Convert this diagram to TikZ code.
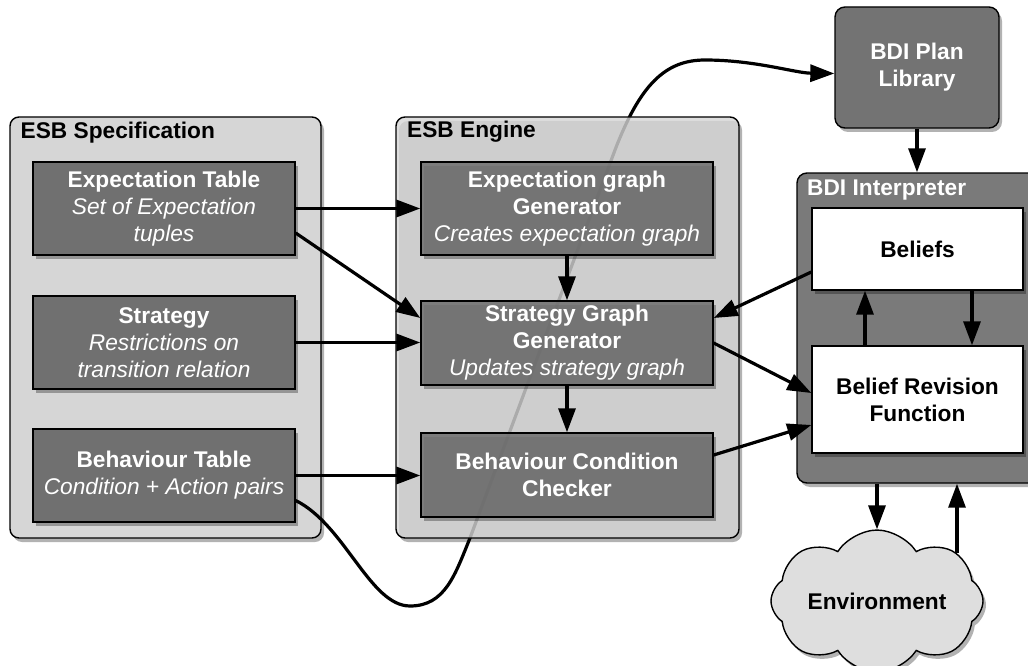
\documentclass[tikz,border=0pt]{standalone}
\usepackage{fontspec}
\setmainfont{Liberation Sans}
\usetikzlibrary{arrows.meta,shapes.symbols,shadows}
\newcommand\itl[1]{{\mdseries\itshape #1}}
\tikzset{
  base/.style={font=\bfseries\fontsize{22.7}{27}\selectfont, align=center, inner sep=0pt, draw=black, line width=1.4pt},
  shad/.style={drop shadow={shadow xshift=3pt,shadow yshift=-4pt,opacity=0.3,fill=black}},
  outerbox/.style={base, fill=black!16, rounded corners=9pt, shad},
  darkbox/.style={base, fill=black!56, text=white, shad},
  whitebox/.style={base, fill=white, shad},
  boxtitle/.style={font=\bfseries\fontsize{22.7}{27}\selectfont, anchor=base west, inner sep=0pt},
  arr/.style={line width=3.2pt, -{Triangle[length=24pt,width=17pt]}},
}
\begin{document}
\begin{tikzpicture}[x=1pt,y=-1pt]
\clip (0,0) rectangle (1028,666);
\fill[white] (0,0) rectangle (1028,666);

% ESB Specification
\node[outerbox, minimum width=311pt, minimum height=421pt] (spec) at (165.5,327.5) {};
\node[boxtitle] (spectitle) at (20.5,139) {ESB Specification};
\node[darkbox, minimum width=262pt, minimum height=93pt] (et) at (164,208.5)
  {Expectation Table\\\itl{Set of Expectation}\\\itl{tuples}};
\node[darkbox, minimum width=262pt, minimum height=93pt] (st) at (164,342.5)
  {Strategy\\\itl{Restrictions on}\\\itl{transition relation}};
\node[darkbox, minimum width=262pt, minimum height=93pt] (bt) at (164,475.5)
  {Behaviour Table\\\itl{Condition + Action pairs}};

% BDI plan library
\node[darkbox, fill=black!55, rounded corners=10pt, minimum width=164pt, minimum height=121pt] (plan) at (917,67.5)
  {BDI Plan\\Library};

% long curve (behind the engine)
\draw[arr] ([yshift=-25pt]bt.east) .. controls (345,525) and (370,606) .. (410,606)
  .. controls (445,606) and (455,575) .. (470,538) -- (615,150)
  .. controls (640,85) and (665,60) .. (705,60)
  .. controls (755,60) and (795,73) .. ([yshift=-6pt]plan.west);

% ESB Engine
\node[outerbox, fill opacity=0.8, minimum width=343pt, minimum height=421pt] (engine) at (567.5,327.5) {};
\node[boxtitle] (enginetitle) at (407,138) {ESB Engine};
\node[darkbox, fill opacity=0.87, text opacity=1, minimum width=292pt, minimum height=93pt] (egg) at (567,208.5)
  {Expectation graph\\Generator\\\itl{Creates expectation graph}};
\node[darkbox, fill opacity=0.87, text opacity=1, minimum width=292pt, minimum height=84pt] (sgg) at (567,343)
  {Strategy Graph\\Generator\\\itl{Updates strategy graph}};
\node[darkbox, fill opacity=0.87, text opacity=1, minimum width=292pt, minimum height=84pt] (bcc) at (567,475)
  {Behaviour Condition\\Checker};

% BDI Interpreter
\node[outerbox, fill=black!52, rounded corners=10pt, minimum width=248pt, minimum height=310pt] (interp) at (921,328) {};
\node[boxtitle, text=white] (interptitle) at (807,195) {BDI Interpreter};
\node[whitebox, minimum width=211pt, minimum height=82pt] (beliefs) at (917.5,249) {Beliefs};
\node[whitebox, minimum width=211pt, minimum height=107pt] (brf) at (917.5,399.5) {Belief Revision\\Function};

% Environment
\node[cloud, cloud puffs=8, cloud puff arc=115, aspect=1.8, draw=black, line width=1.4pt, fill=black!13,
      minimum width=212pt, minimum height=114pt, inner sep=0pt, shad,
      font=\bfseries\fontsize{22.7}{27}\selectfont] (env) at (877,601) {Environment};
\coordinate (envup) at (957,553);

% arrows
\draw[arr] (et.east) -- (et.east -| egg.west);
\draw[arr] ([yshift=-24.5pt]et.east) -- ([yshift=25pt]sgg.west);
\draw[arr] (st.east) -- (st.east -| sgg.west);
\draw[arr] (bt.east) -- (bt.east -| bcc.west);
\draw[arr] (egg.south) -- (sgg.north);
\draw[arr] (sgg.south) -- (bcc.north);
\draw[arr] ([yshift=-23pt]beliefs.west) -- ([yshift=25pt]sgg.east);
\draw[arr] (sgg.east) -- ([yshift=6.5pt]brf.west);
\draw[arr] ([yshift=20pt]bcc.east) -- ([yshift=-25.5pt]brf.west);
\draw[arr] ([xshift=54.5pt]beliefs.south) -- ([xshift=54.5pt]brf.north);
\draw[arr] ([xshift=-52.5pt]brf.north) -- ([xshift=-52.5pt]beliefs.south);
\draw[arr] (plan.south) -- (plan.south |- interp.north);
\draw[arr] (interp.south -| env.north) -- (env.north);
\draw[arr] (envup) -- (envup |- interp.south);
\end{tikzpicture}
\end{document}
